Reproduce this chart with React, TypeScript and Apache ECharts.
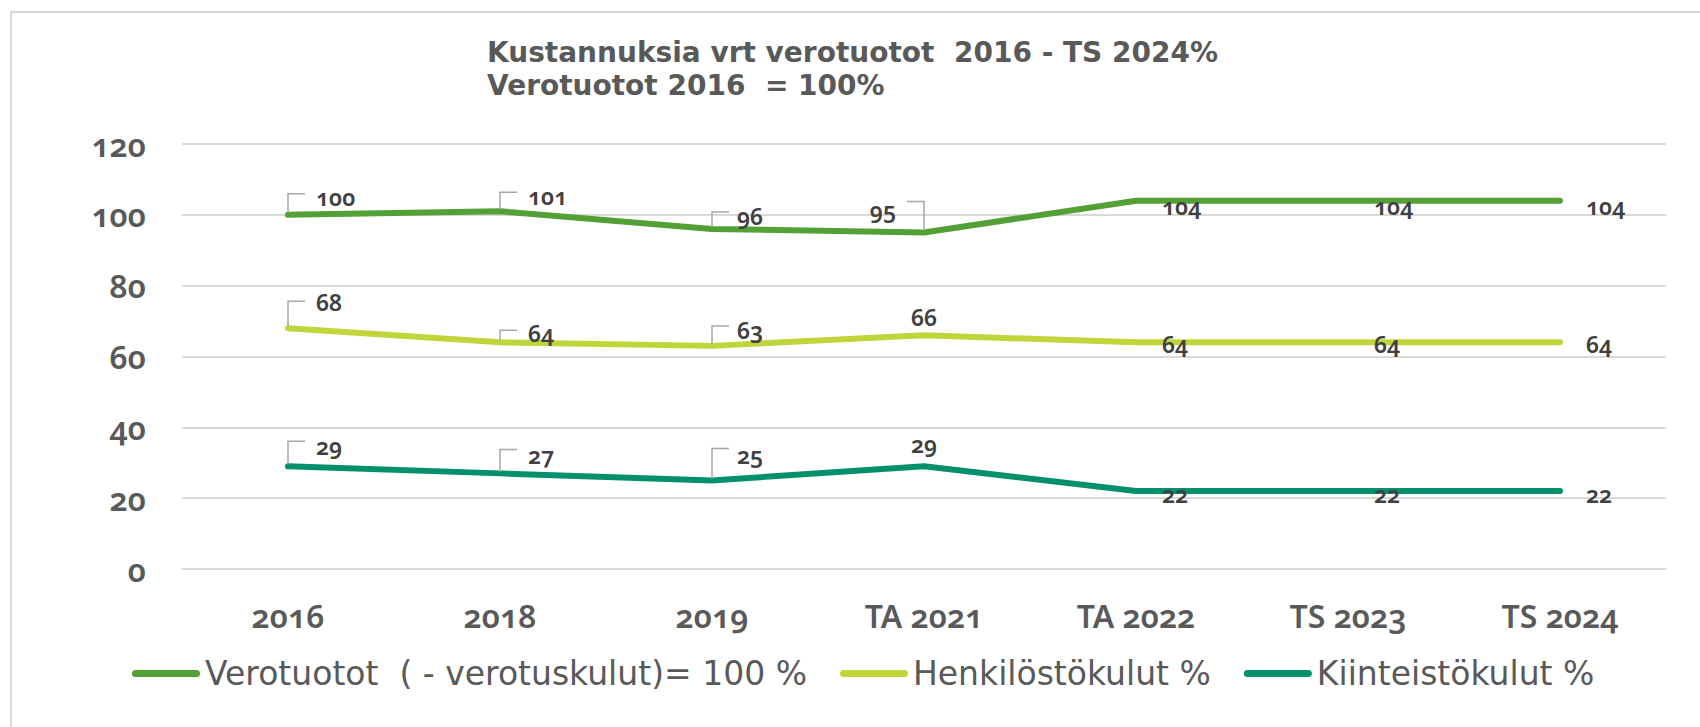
import React, { useEffect, useRef } from "react";
import * as echarts from "echarts";

const categories = ["2016", "2018", "2019", "TA 2021", "TA 2022", "TS 2023", "TS 2024"];
const verotuotot = [100, 101, 96, 95, 104, 104, 104];
const henkilosto = [68, 64, 63, 66, 64, 64, 64];
const kiinteisto = [29, 27, 25, 29, 22, 22, 22];
const seriesNames = [
  "Verotuotot  ( - verotuskulut)= 100 %",
  "Henkilöstökulut %",
  "Kiinteistökulut %",
];
const yTicks = { min: 0, max: 120, interval: 20 };
const titleText = "Kustannuksia vrt verotuotot  2016 - TS 2024%\nVerotuotot 2016  = 100%";

// label placement (style only): [side, dx, dy, bracketHeight]
type Place = [string, number, number, number];
const verPlace: Place[] = [
  ["r", 28, -18, 21], ["r", 28, -15, 19], ["r", 25, -13, 17], ["l", 28, -23, 31],
  ["r", 26, 5, 0], ["r", 26, 5, 0], ["r", 26, 5, 0],
];
const henPlace: Place[] = [
  ["r", 28, -26, 27], ["r", 28, -9, 12], ["r", 25, -16, 20], ["t", 0, -18, 0],
  ["r", 26, 2, 0], ["r", 26, 2, 0], ["r", 26, 2, 0],
];
const kiiPlace: Place[] = [
  ["r", 28, -20, 25], ["r", 28, -18, 24], ["r", 25, -25, 32], ["t", 0, -22, 0],
  ["r", 26, 3, 0], ["r", 26, 3, 0], ["r", 26, 3, 0],
];
const colors = ["#53a036", "#c0d53a", "#05906c"];

function buildData(values: number[], places: Place[]) {
  return values.map((v, i) => {
    const [side, dx, dy] = places[i];
    let label: any;
    if (side === "r") label = { position: "right", distance: 0, offset: [dx - 1, dy] };
    else if (side === "l") label = { position: "left", distance: 0, offset: [-(dx - 1), dy] };
    else label = { position: "top", distance: 0, offset: [0, dy + 12] };
    return { value: v, label };
  });
}

function buildBrackets(values: number[], places: Place[]) {
  const out: number[][] = [];
  values.forEach((v, i) => {
    const [side, , , h] = places[i];
    if (h > 0) out.push([i, v, h, side === "l" ? -1 : 1]);
  });
  return out;
}

export default function App() {
  const ref = useRef<HTMLDivElement>(null);
  useEffect(() => {
    if (!ref.current) return;
    const chart = echarts.init(ref.current, null, { renderer: "svg" });
    const labelStyle = {
      show: true,
      fontFamily: "Noto Sans",
      fontSize: 23,
      fontWeight: 600,
      color: "#404040",
      lineHeight: 22,
    };
    const lineSeries = [verotuotot, henkilosto, kiinteisto].map((vals, k) => ({
      name: seriesNames[k],
      type: "line",
      data: buildData(vals, [verPlace, henPlace, kiiPlace][k]),
      symbol: "circle",
      symbolSize: 2,
      showSymbol: true,
      itemStyle: { color: colors[k] },
      lineStyle: { color: colors[k], width: 6, cap: "round", join: "round" },
      label: labelStyle,
      z: 3,
    }));
    const brackets = [
      ...buildBrackets(verotuotot, verPlace),
      ...buildBrackets(henkilosto, henPlace),
      ...buildBrackets(kiinteisto, kiiPlace),
    ];
    chart.setOption({
      animation: false,
      backgroundColor: "#ffffff",
      title: {
        text: titleText,
        left: 487,
        top: 36,
        padding: 0,
        textStyle: {
          fontFamily: "DejaVu Sans",
          fontWeight: "bold",
          fontSize: 28,
          lineHeight: 33,
          color: "#595959",
        },
      },
      legend: {
        data: seriesNames,
        left: 132,
        top: 657,
        padding: 0,
        itemGap: 33,
        itemWidth: 68,
        itemHeight: 7,
        icon: "path://M3.5,0 H64.5 A3.5,3.5 0 0 1 64.5,7 H3.5 A3.5,3.5 0 0 1 3.5,0 Z",
        textStyle: { fontFamily: "DejaVu Sans", fontSize: 33, color: "#595959" },
      },
      grid: { left: 182, right: 34, top: 144, bottom: 158, containLabel: false },
      xAxis: {
        type: "category",
        data: categories,
        boundaryGap: true,
        axisLine: { show: false },
        axisTick: { show: false },
        axisLabel: {
          fontFamily: "Noto Sans",
          fontSize: 32,
          fontWeight: 600,
          color: "#595959",
          margin: 30,
        },
      },
      yAxis: {
        type: "value",
        min: yTicks.min,
        max: yTicks.max,
        interval: yTicks.interval,
        axisLine: { show: false },
        axisTick: { show: false },
        splitLine: { lineStyle: { color: "#d9d9d9", width: 2 } },
        axisLabel: {
          fontFamily: "Noto Sans",
          fontSize: 32,
          fontWeight: 600,
          color: "#595959",
          margin: 36,
        },
      },
      graphic: [
        {
          type: "polyline",
          shape: { points: [[11, 727], [11, 12], [1700, 12]] },
          style: { stroke: "#d9d9d9", lineWidth: 2, fill: "none" },
          silent: true,
        },
      ],
      series: [
        ...lineSeries,
        {
          type: "custom",
          name: "brackets",
          silent: true,
          z: 4,
          encode: { x: 0, y: 1 },
          data: brackets,
          renderItem: (params: any, api: any) => {
            const p = api.coord([api.value(0), api.value(1)]);
            const h = api.value(2);
            const dir = api.value(3);
            return {
              type: "polyline",
              shape: {
                points: [
                  [p[0], p[1] - 2],
                  [p[0], p[1] - h],
                  [p[0] + dir * 17, p[1] - h],
                ],
              },
              style: { stroke: "#a6a6a6", lineWidth: 1.5, fill: "none" },
            };
          },
        },
      ],
    });
    return () => chart.dispose();
  }, []);
  return (
    <>
      <style>{`#root svg text { font-variant-numeric: oldstyle-nums; }`}</style>
      <div
        ref={ref}
        style={{ position: "fixed", left: 0, top: 0, width: 1700, height: 727 }}
      />
    </>
  );
}
